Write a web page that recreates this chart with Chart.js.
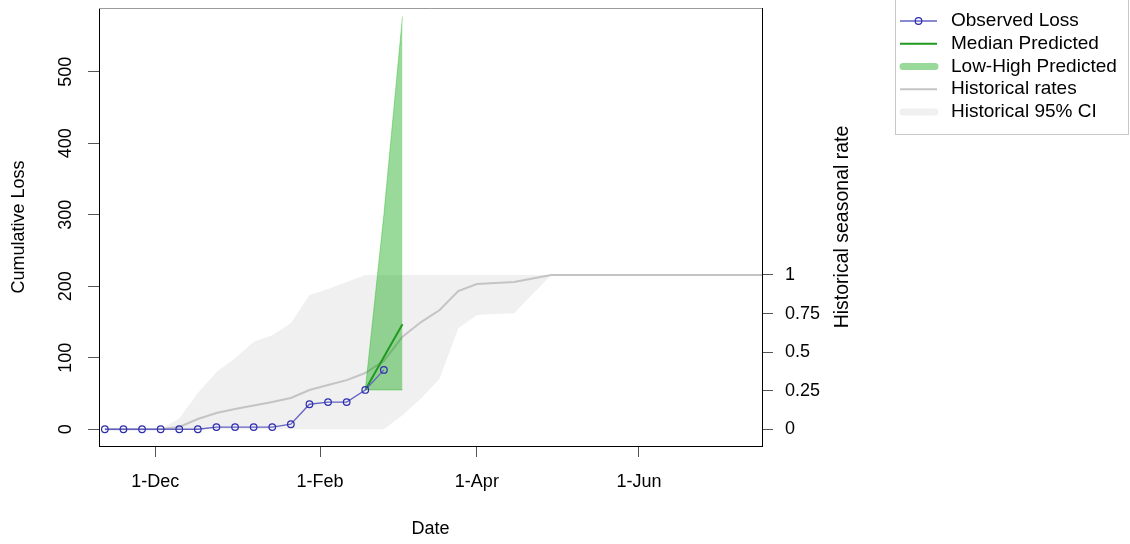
<!DOCTYPE html>
<html>
<head>
<meta charset="utf-8">
<script src="https://cdn.jsdelivr.net/npm/chart.js@4.4.1/dist/chart.umd.min.js"></script>
<style>
  html, body { margin: 0; padding: 0; background: #fff; }
  #wrap { width: 1130px; height: 544px; }
</style>
</head>
<body>
<div id="wrap"><canvas id="chart" width="1130" height="544"></canvas></div>
<script>
// observed weekly cumulative loss
var obsDates = ['2018-11-12', '2018-11-19', '2018-11-26', '2018-12-03', '2018-12-10', '2018-12-17',
                '2018-12-24', '2018-12-31', '2019-01-07', '2019-01-14', '2019-01-21', '2019-01-28',
                '2019-02-04', '2019-02-11', '2019-02-18', '2019-02-25'];
var obsLoss = [0, 0, 0, 0, 0, 0, 3, 3, 3, 3, 7, 35, 38, 38, 55, 83];

// predictions
var predDates = ['2019-02-18', '2019-02-25', '2019-03-04'];
var predMedian = [55, 101, 147];
var predLow = [55, 55, 55];
var predHigh = [55, 300, 577];

// historical seasonal rate (right axis), same weekly grid
var histDates = ['2018-11-12', '2018-11-19', '2018-11-26', '2018-12-03', '2018-12-10', '2018-12-17',
                 '2018-12-24', '2018-12-31', '2019-01-07', '2019-01-14', '2019-01-21', '2019-01-28',
                 '2019-02-04', '2019-02-11', '2019-02-18', '2019-02-25', '2019-03-04', '2019-03-11',
                 '2019-03-18', '2019-03-25', '2019-04-01', '2019-04-08', '2019-04-15', '2019-04-22',
                 '2019-04-29', '2019-05-06', '2019-05-13', '2019-05-20', '2019-05-27', '2019-06-03',
                 '2019-06-10', '2019-06-17', '2019-06-24', '2019-07-01', '2019-07-08', '2019-07-15',
                 '2019-07-22'];
var histRate  = [0, 0, 0, 0, 0.015, 0.067, 0.106, 0.132, 0.154, 0.177, 0.203, 0.255, 0.287, 0.319,
                 0.365, 0.443, 0.6, 0.695, 0.773, 0.896, 0.942, 0.948, 0.955, 0.977, 1, 1, 1, 1, 1,
                 1, 1, 1, 1, 1, 1, 1, 1];
var histUpper = [0, 0, 0, 0, 0.07, 0.236, 0.371, 0.46, 0.568, 0.61, 0.687, 0.87, 0.909, 0.955,
                 1, 1, 1, 1, 1, 1, 1, 1, 1, 1, 1, 1, 1, 1, 1, 1, 1, 1, 1, 1, 1, 1, 1];
var histLower = [0, 0, 0, 0, 0, 0, 0, 0, 0, 0, 0, 0, 0, 0, 0, 0, 0.091, 0.2, 0.33, 0.655, 0.741,
                 0.747, 0.752, 0.877, 1, 1, 1, 1, 1, 1, 1, 1, 1, 1, 1, 1, 1];

// axis ticks
var xTickDates = ['2018-12-01', '2019-02-01', '2019-04-01', '2019-06-01'];
var xTickLabels = ['1-Dec', '1-Feb', '1-Apr', '1-Jun'];
var yTicks = [0, 100, 200, 300, 400, 500];
var y2Ticks = [0, 0.25, 0.5, 0.75, 1];
var y2TickLabels = ['0', '0.25', '0.5', '0.75', '1'];

var legendLabels = ['Observed Loss', 'Median Predicted', 'Low-High Predicted', 'Historical rates', 'Historical 95% CI'];

var FONT = '"Liberation Sans", Arial, sans-serif';
var DAY0 = Date.UTC(2018, 11, 1);
function dayNum(s) {
    var p = s.split('-');
    return (Date.UTC(+p[0], +p[1] - 1, +p[2]) - DAY0) / 86400000;
}
function pts(dates, vals) {
    return dates.map(function (d, i) { return {x: dayNum(d), y: vals[i]}; });
}
// fixed axis sizes so the plot box lands where R put it
function fixSize(w, h) {
    return function (s) {
        if (w !== null) s.width = w;
        if (h !== null) s.height = h;
        s.paddingTop = 0; s.paddingBottom = 0;
        s.paddingLeft = 0; s.paddingRight = 0;
    };
}

var OBS_LINE = '#6262c2';
var OBS_PT = '#2c2cae';
var GREEN = '#1f9a1f';
var GREEN_FILL = 'rgba(0,160,0,0.4)';
var GREY_LINE = '#c4c4c4';
var GREY_FILL = '#f0f0f0';

// extra drawing: top box edge, right axis title, legend
var extras = {
    id: 'extras',
    afterDraw: function (chart) {
        var ctx = chart.ctx;
        var a = chart.chartArea;
        ctx.save();
        ctx.strokeStyle = '#9a9a9a';
        ctx.lineWidth = 1;
        ctx.beginPath();
        ctx.moveTo(a.left, a.top + 0.5);
        ctx.lineTo(a.right, a.top + 0.5);
        ctx.stroke();

        // right axis title, bottom-to-top like R
        ctx.fillStyle = '#000';
        ctx.font = '19.5px ' + FONT;
        ctx.textAlign = 'center';
        ctx.textBaseline = 'middle';
        ctx.translate(843, (a.top + a.bottom) / 2);
        ctx.rotate(-Math.PI / 2);
        ctx.fillText('Historical seasonal rate', 0, 0);
        ctx.restore();

        // legend
        ctx.save();
        ctx.strokeStyle = '#c8c8c8';
        ctx.lineWidth = 1;
        ctx.strokeRect(895.5, -10.5, 233, 145);
        ctx.font = '19px ' + FONT;
        ctx.textBaseline = 'middle';
        ctx.textAlign = 'left';
        legendLabels.forEach(function (lab, i) {
            var y = 21 + i * 22.75;
            ctx.lineCap = 'butt';
            if (i === 0) {
                ctx.strokeStyle = OBS_LINE; ctx.lineWidth = 1.3;
            } else if (i === 1) {
                ctx.strokeStyle = GREEN; ctx.lineWidth = 2;
            } else if (i === 2) {
                ctx.strokeStyle = GREEN_FILL; ctx.lineWidth = 7; ctx.lineCap = 'round';
            } else if (i === 3) {
                ctx.strokeStyle = GREY_LINE; ctx.lineWidth = 2;
            } else {
                ctx.strokeStyle = GREY_FILL; ctx.lineWidth = 7; ctx.lineCap = 'round';
            }
            var x0 = ctx.lineCap === 'round' ? 903 : 900;
            var x1 = ctx.lineCap === 'round' ? 935 : 937;
            ctx.beginPath();
            ctx.moveTo(x0, y);
            ctx.lineTo(x1, y);
            ctx.stroke();
            if (i === 0) {
                ctx.strokeStyle = OBS_PT; ctx.lineWidth = 1.2;
                ctx.beginPath();
                ctx.arc(918.5, y, 3.3, 0, Math.PI * 2);
                ctx.stroke();
            }
            ctx.fillStyle = '#000';
            ctx.fillText(lab, 951, y);
        });
        ctx.restore();
    }
};

var ctx = document.getElementById('chart').getContext('2d');
new Chart(ctx, {
    type: 'line',
    data: {
        datasets: [
            {
                label: 'Observed Loss',
                data: pts(obsDates, obsLoss),
                yAxisID: 'y',
                borderColor: OBS_LINE,
                borderWidth: 1.3,
                pointRadius: 3.3,
                pointBorderWidth: 1.2,
                pointBorderColor: OBS_PT,
                pointBackgroundColor: 'rgba(0,0,0,0)',
                fill: false
            },
            {
                label: 'Median Predicted',
                data: pts(predDates, predMedian),
                yAxisID: 'y',
                borderColor: GREEN,
                borderWidth: 2,
                pointRadius: 0,
                fill: false
            },
            {
                label: 'High Predicted',
                data: pts(predDates, predHigh),
                yAxisID: 'y',
                borderColor: 'rgba(0,180,0,0.35)',
                borderWidth: 1,
                backgroundColor: GREEN_FILL,
                pointRadius: 0,
                fill: '+1'
            },
            {
                label: 'Low Predicted',
                data: pts(predDates, predLow),
                yAxisID: 'y',
                borderColor: 'rgba(0,180,0,0.35)',
                borderWidth: 1,
                pointRadius: 0,
                fill: false
            },
            {
                label: 'Historical rates',
                data: pts(histDates, histRate),
                yAxisID: 'y2',
                borderColor: GREY_LINE,
                borderWidth: 2,
                pointRadius: 0,
                fill: false,
                clip: 0
            },
            {
                label: 'Historical upper',
                data: pts(histDates, histUpper),
                yAxisID: 'y2',
                borderWidth: 0,
                borderColor: 'rgba(0,0,0,0)',
                backgroundColor: GREY_FILL,
                pointRadius: 0,
                fill: '+1',
                clip: 0
            },
            {
                label: 'Historical lower',
                data: pts(histDates, histLower),
                yAxisID: 'y2',
                borderWidth: 0,
                borderColor: 'rgba(0,0,0,0)',
                pointRadius: 0,
                fill: false,
                clip: 0
            }
        ]
    },
    options: {
        responsive: false,
        animation: false,
        devicePixelRatio: 1,
        layout: {padding: {top: 8, left: 0, right: 0, bottom: 0}},
        elements: {line: {tension: 0}},
        plugins: {legend: {display: false}, tooltip: {enabled: false}},
        scales: {
            x: {
                type: 'linear',
                position: 'bottom',
                min: -21.2,
                max: 228.3,
                afterBuildTicks: function (s) {
                    s.ticks = xTickDates.map(function (d) { return {value: dayNum(d)}; });
                },
                afterFit: fixSize(null, 98),
                ticks: {
                    autoSkip: false,
                    maxRotation: 0,
                    padding: 14,
                    color: '#000',
                    font: {family: FONT, size: 18},
                    callback: function (v) {
                        var i = xTickDates.map(dayNum).indexOf(v);
                        return i >= 0 ? xTickLabels[i] : '';
                    }
                },
                grid: {drawOnChartArea: false, drawTicks: true, tickLength: 11, color: '#555'},
                border: {display: true, color: '#000', width: 1},
                title: {display: true, text: 'Date', color: '#000', font: {family: FONT, size: 18},
                        padding: {top: 0, bottom: 4}}
            },
            y: {
                type: 'linear',
                position: 'left',
                min: -23.4,
                max: 589.1,
                afterBuildTicks: function (s) {
                    s.ticks = yTicks.map(function (v) { return {value: v}; });
                },
                afterFit: fixSize(99, null),
                ticks: {
                    autoSkip: false,
                    minRotation: 90,
                    maxRotation: 90,
                    crossAlign: 'center',
                    padding: 7,
                    color: '#000',
                    font: {family: FONT, size: 18}
                },
                grid: {drawOnChartArea: false, drawTicks: true, tickLength: 11, color: '#555'},
                border: {display: true, color: '#000', width: 1},
                title: {display: true, text: 'Cumulative Loss', color: '#000', font: {family: FONT, size: 18},
                        padding: {top: 8, bottom: 0}}
            },
            y2: {
                type: 'linear',
                position: 'right',
                min: -0.108,
                max: 2.73,
                afterBuildTicks: function (s) {
                    s.ticks = y2Ticks.map(function (v) { return {value: v}; });
                },
                afterFit: fixSize(368, null),
                ticks: {
                    autoSkip: false,
                    padding: 12,
                    color: '#000',
                    font: {family: FONT, size: 18},
                    callback: function (v) {
                        var i = y2Ticks.indexOf(v);
                        return i >= 0 ? y2TickLabels[i] : '';
                    }
                },
                grid: {drawOnChartArea: false, drawTicks: true, tickLength: 11, color: '#555'},
                border: {display: true, color: '#000', width: 1}
            }
        }
    },
    plugins: [extras]
});
</script>
</body>
</html>
